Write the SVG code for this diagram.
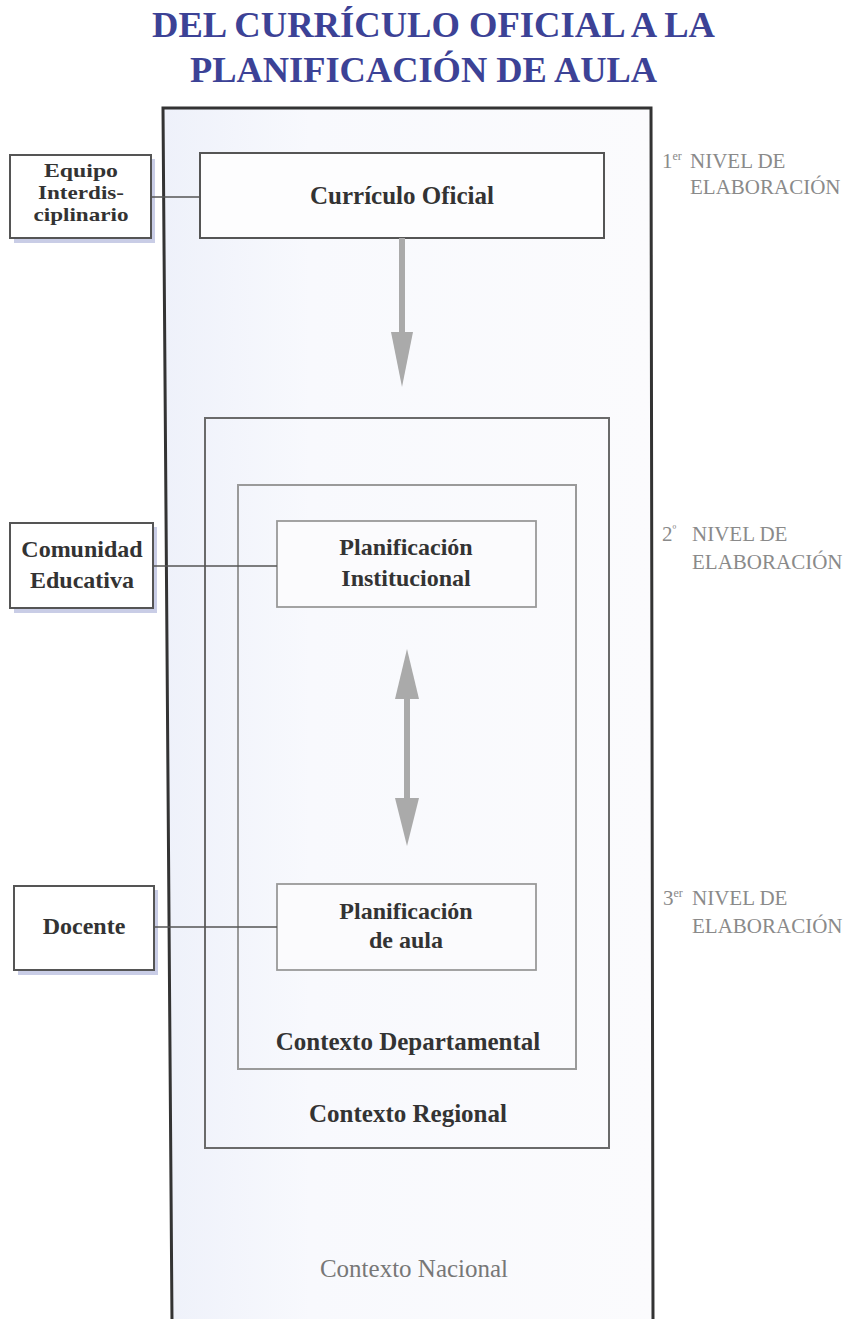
<svg xmlns="http://www.w3.org/2000/svg" width="859" height="1319" viewBox="0 0 859 1319">
<defs>
<style>
.t{font-family:"Liberation Serif","Times New Roman",serif;text-anchor:middle}
.b{font-weight:bold;fill:#333;font-size:24px}
.b25{font-size:25px}
.sm{font-size:19px}
.lvl{font-family:"Liberation Serif","Times New Roman",serif;fill:#8a8a8a;font-size:21px}
.side{fill:#ffffff;stroke:#555;stroke-width:2}
.shadow{fill:#c9cde6}
.box{fill:none;stroke-width:2}
.conn{stroke:#555;stroke-width:1.6;fill:none}
.arr{stroke:#aaaaaa;stroke-width:6;fill:none}
.head{fill:#aaaaaa}
</style>
<linearGradient id="bg" x1="0" y1="0" x2="1" y2="0">
<stop offset="0" stop-color="#eef1fa"/>
<stop offset="0.3" stop-color="#f8f9fd"/>
<stop offset="1" stop-color="#fbfbfd"/>
</linearGradient>
</defs>
<rect width="859" height="1319" fill="#ffffff"/>

<g id="title" fill="#3c4296" font-family="'Liberation Serif','Times New Roman',serif" font-weight="bold" font-size="35">
<text x="152" y="37" textLength="563" lengthAdjust="spacingAndGlyphs">DEL CURRÍCULO OFICIAL A LA</text>
<text x="190" y="82" textLength="467" lengthAdjust="spacingAndGlyphs">PLANIFICACIÓN DE AULA</text>
</g>

<g id="contexto-nacional">
<path d="M163,108 L651,108 L653,1322 L172,1322 Z" fill="url(#bg)" stroke="#333" stroke-width="3"/>
<text class="t" x="414" y="1277" font-size="25" fill="#777">Contexto Nacional</text>
</g>

<g id="contexto-regional">
<rect x="205" y="418" width="404" height="730" class="box" stroke="#6a6a6a"/>
<text class="t b b25" x="408" y="1122">Contexto Regional</text>
</g>

<g id="contexto-departamental">
<rect x="238" y="485" width="338" height="584" class="box" stroke="#9a9a9a"/>
<text class="t b b25" x="408" y="1050">Contexto Departamental</text>
</g>

<g id="curriculo-oficial">
<rect x="200" y="153" width="404" height="85" fill="#fdfdfe" stroke="#555" stroke-width="2"/>
<text class="t b b25" x="402" y="204">Currículo Oficial</text>
</g>

<g id="planificacion-institucional">
<rect x="277" y="521" width="259" height="86" fill="#fbfbfd" stroke="#999" stroke-width="1.8"/>
<text class="t b" x="406" y="555">Planificación</text>
<text class="t b" x="406" y="586">Institucional</text>
</g>

<g id="planificacion-aula">
<rect x="277" y="884" width="259" height="86" fill="#fbfbfd" stroke="#999" stroke-width="1.8"/>
<text class="t b" x="406" y="919">Planificación</text>
<text class="t b" x="406" y="948">de aula</text>
</g>

<g id="equipo-interdisciplinario">
<rect x="14" y="159" width="141" height="84" class="shadow"/>
<rect x="10" y="155" width="141" height="83" class="side"/>
<text class="t b sm" x="81" y="177" textLength="74" lengthAdjust="spacingAndGlyphs">Equipo</text>
<text class="t b sm" x="81" y="199" textLength="86" lengthAdjust="spacingAndGlyphs">Interdis-</text>
<text class="t b sm" x="81" y="221" textLength="95" lengthAdjust="spacingAndGlyphs">ciplinario</text>
</g>

<g id="comunidad-educativa">
<rect x="14" y="527" width="143" height="86" class="shadow"/>
<rect x="10" y="523" width="143" height="85" class="side"/>
<text class="t b" x="82" y="557">Comunidad</text>
<text class="t b" x="82" y="588">Educativa</text>
</g>

<g id="docente">
<rect x="18" y="890" width="140" height="85" class="shadow"/>
<rect x="14" y="886" width="140" height="84" class="side"/>
<text class="t b" x="84" y="934">Docente</text>
</g>

<g id="niveles" class="lvl">
<text x="662" y="168">1<tspan font-size="12" dy="-8">er</tspan><tspan dy="8" x="690">NIVEL DE</tspan></text>
<text x="690" y="194">ELABORACIÓN</text>
<text x="662" y="541">2<tspan font-size="12" dy="-8">º</tspan><tspan dy="8" x="692">NIVEL DE</tspan></text>
<text x="692" y="569">ELABORACIÓN</text>
<text x="663" y="905">3<tspan font-size="12" dy="-8">er</tspan><tspan dy="8" x="692">NIVEL DE</tspan></text>
<text x="692" y="933">ELABORACIÓN</text>
</g>

<g id="connectors">
<line class="conn" x1="151" y1="197" x2="200" y2="197"/>
<line class="conn" x1="153" y1="566" x2="277" y2="566"/>
<line class="conn" x1="154" y1="927" x2="277" y2="927"/>
<line class="arr" x1="402" y1="238" x2="402" y2="340"/>
<polygon class="head" points="391,332 413,332 402,387"/>
<line class="arr" x1="407" y1="690" x2="407" y2="805"/>
<polygon class="head" points="407,649 395,699 419,699"/>
<polygon class="head" points="395,798 419,798 407,846"/>
</g>
</svg>
